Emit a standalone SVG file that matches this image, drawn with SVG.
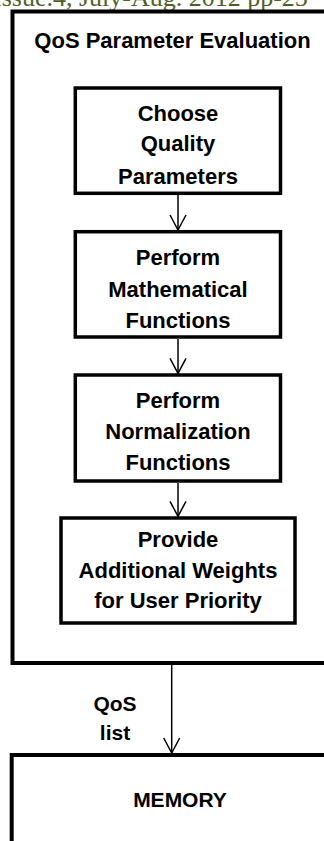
<svg xmlns="http://www.w3.org/2000/svg" width="324" height="841" viewBox="0 0 324 841">
<style>
.hdr{font-family:"Liberation Serif","DejaVu Serif",serif;font-size:26px;fill:#4f6228}
.t{font-family:"Liberation Sans",Arial,sans-serif;font-weight:bold;font-size:22px;fill:#000;text-anchor:middle}
.s{font-size:21px}
.box{fill:#fff;stroke:#000;stroke-width:3.5}
.big{fill:none;stroke:#000;stroke-width:4}
.c{fill:none;stroke:#000;stroke-width:1.5}
</style>
<defs>
<marker id="arr" markerWidth="18" markerHeight="18" refX="16" refY="9" orient="auto" markerUnits="userSpaceOnUse">
<path d="M1,1 L16,9 L1,17" fill="none" stroke="#000" stroke-width="1.5"/>
</marker>
</defs>
<rect width="324" height="841" fill="#fff"/>
<text class="hdr" x="-7" y="6">Issue.4, July-Aug. 2012 pp-25</text>

<g id="qos-evaluation">
<path class="big" d="M330,11.5 H12.5 V663 H330"/>
<text class="t" x="172.5" y="48.3">QoS Parameter Evaluation</text>
</g>

<g id="memory">
<path class="big" d="M330,755 H11.7 V850"/>
<text class="t s" x="180" y="807">MEMORY</text>
</g>

<g id="choose">
<rect class="box" x="75.3" y="88" width="205.2" height="105.3"/>
<text class="t" x="178" y="120.5">Choose</text>
<text class="t" x="178" y="151">Quality</text>
<text class="t" x="178" y="183.5">Parameters</text>
</g>

<g id="math">
<rect class="box" x="75.3" y="231.7" width="205.2" height="105.3"/>
<text class="t" x="178" y="265">Perform</text>
<text class="t" x="178" y="296.7">Mathematical</text>
<text class="t" x="178" y="327.7">Functions</text>
</g>

<g id="norm">
<rect class="box" x="75.3" y="375" width="205.2" height="106"/>
<text class="t" x="178" y="408.3">Perform</text>
<text class="t" x="178" y="438.8">Normalization</text>
<text class="t" x="178" y="470">Functions</text>
</g>

<g id="weights">
<rect class="box" x="61" y="518" width="234" height="105"/>
<text class="t" x="178" y="547">Provide</text>
<text class="t" x="178" y="578.3">Additional Weights</text>
<text class="t" x="178" y="608.3">for User Priority</text>
</g>

<g id="connectors">
<line class="c" x1="178" y1="195" x2="178" y2="230" marker-end="url(#arr)"/>
<line class="c" x1="178" y1="339" x2="178" y2="373.3" marker-end="url(#arr)"/>
<line class="c" x1="178" y1="483" x2="178" y2="516.3" marker-end="url(#arr)"/>
<line class="c" x1="171.7" y1="665" x2="171.7" y2="753" marker-end="url(#arr)"/>
<text class="t s" x="115" y="710.7">QoS</text>
<text class="t s" x="115" y="740">list</text>
</g>
</svg>
